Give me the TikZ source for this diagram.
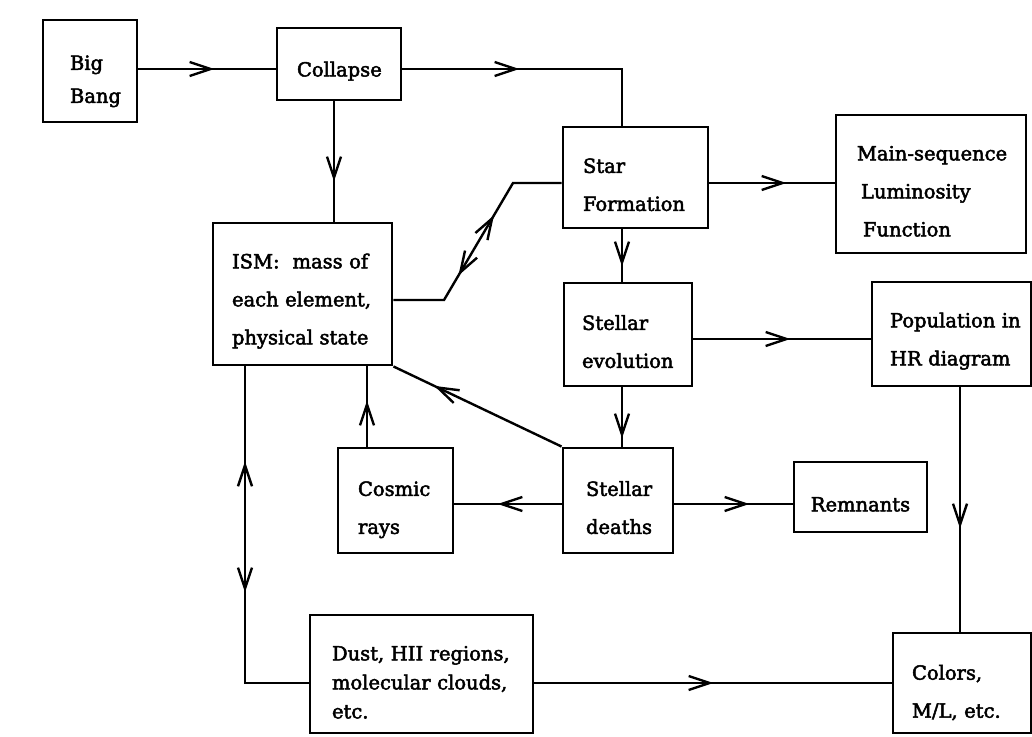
\documentclass[tikz,border=0pt]{standalone}
\usepackage{fontspec}
\setmainfont[FakeBold=2.5]{DejaVu Serif}
\usetikzlibrary{arrows.meta,decorations.markings}
\begin{document}
\begin{tikzpicture}[x=1pt,y=-1pt, line join=miter,
  firsth/.style={execute at begin node={\rule{0pt}{#1}}},
  box/.style={draw, line width=2.9pt, rectangle, inner ysep=0pt, align=left,
    font=\fontsize{19.5}{38}\selectfont, firsth=29pt},
  conn/.style={line width=2.4pt},
  >={Straight Barb[length=21pt,width=14pt]},
  arr/.style={postaction={decorate,decoration={markings,mark=at position #1 with {\arrow{>}}}}},
  rarr/.style={postaction={decorate,decoration={markings,mark=at position #1 with {\arrowreversed{>}}}}},
]
\useasboundingbox (0,0) rectangle (1032,736);

% boxes
\node[box, minimum width=94pt, minimum height=102pt, inner xsep=27pt, text width=40pt,
      font=\fontsize{19.5}{33}\selectfont, firsth=35pt] (bigbang) at (90,71) {\mbox{Big}\\\mbox{Bang}};
\node[box, minimum width=124pt, minimum height=72pt, inner xsep=20pt, text width=84pt, firsth=21pt] (collapse) at (339,64) {\mbox{Collapse}};
\node[box, minimum width=179pt, minimum height=142pt, inner xsep=19pt, text width=141pt] (ism) at (302.5,294)
  {\mbox{ISM:\ \ mass of}\\\mbox{each element,}\\\mbox{physical state}};
\node[box, minimum width=145pt, minimum height=101pt, inner xsep=20pt, text width=105pt] (sf) at (635.5,177.5)
  {\mbox{Star}\\\mbox{Formation}};
\node[box, minimum width=190pt, minimum height=138pt, inner xsep=21pt, text width=148pt, firsth=27pt] (ms) at (931,184)
  {\mbox{Main-sequence}\\\mbox{\hspace{4pt}Luminosity}\\\mbox{\hspace{6pt}Function}};
\node[box, minimum width=128pt, minimum height=103pt, inner xsep=18pt, text width=92pt, firsth=27pt] (se) at (628,334.5)
  {\mbox{Stellar}\\\mbox{evolution}};
\node[box, minimum width=159pt, minimum height=104pt, inner xsep=18pt, text width=123pt] (pop) at (951.5,334)
  {\mbox{Population in}\\\mbox{HR diagram}};
\node[box, minimum width=115pt, minimum height=105pt, inner xsep=20pt, text width=75pt, firsth=33pt] (cosmic) at (395.5,500.5)
  {\mbox{Cosmic}\\\mbox{rays}};
\node[box, minimum width=110pt, minimum height=105pt, inner xsep=23pt, text width=64pt] (deaths) at (618,500.5)
  {\mbox{Stellar}\\\mbox{deaths}};
\node[box, minimum width=133pt, minimum height=70pt, inner xsep=10pt, text width=113pt, align=center, firsth=22pt] (remnants) at (860.5,497)
  {\mbox{Remnants}};
\node[box, minimum width=223pt, minimum height=118pt, inner xsep=22pt, text width=179pt,
      font=\fontsize{19.5}{29}\selectfont, firsth=31pt] (dust) at (421.5,674)
  {\mbox{Dust, HII regions,}\\\mbox{molecular clouds,}\\\mbox{etc.}};
\node[box, minimum width=138pt, minimum height=100pt, inner xsep=19pt, text width=100pt, firsth=34pt] (colors) at (962,683)
  {\mbox{Colors,}\\\mbox{M/L, etc.}};

% helper coordinates
\coordinate (y69) at (0,69);
\coordinate (k1) at (622,69);
\coordinate (x334) at (334,0);
\coordinate (j1) at (444,300);
\coordinate (j2) at (513,183);
\coordinate (x622) at (622,0);
\coordinate (y339) at (0,339);
\coordinate (x960) at (960,0);
\coordinate (y504) at (0,504);
\coordinate (x367) at (367,0);
\coordinate (x245) at (245,0);
\coordinate (k2) at (245,683);

% connectors
\draw[conn, arr=76pt] (bigbang.east |- y69) -- (collapse.west |- y69);
\draw[conn, arr=117pt] (collapse.east |- y69) -- (k1) -- (k1 |- sf.north);
\draw[conn, arr=80pt] (collapse.south -| x334) -- (ism.north -| x334);
\draw[conn, rarr=79pt, arr=149pt] (ism.east |- j1) -- (j1) -- (j2) -- (sf.west |- j2);
\draw[conn, arr=77pt] (sf.east |- j2) -- (ms.west |- j2);
\draw[conn, arr=37pt] (sf.south -| x622) -- (se.north -| x622);
\draw[conn, arr=97pt] (se.east |- y339) -- (pop.west |- y339);
\draw[conn, arr=141pt] (pop.south -| x960) -- (colors.north -| x960);
\draw[conn, arr=51pt] (se.south -| x622) -- (deaths.north -| x622);
\draw[conn, arr=64pt] (deaths.west |- y504) -- (cosmic.east |- y504);
\draw[conn, arr=75pt] (deaths.east |- y504) -- (remnants.west |- y504);
\draw[conn, arr=141pt] (deaths.north west) -- (ism.south east);
\draw[conn, arr=46pt] (cosmic.north -| x367) -- (ism.south -| x367);
\draw[conn, rarr=95pt, arr=226pt] (ism.south -| x245) -- (k2) -- (dust.west |- k2);
\draw[conn, arr=179pt] (dust.east |- k2) -- (colors.west |- k2);
\end{tikzpicture}
\end{document}
